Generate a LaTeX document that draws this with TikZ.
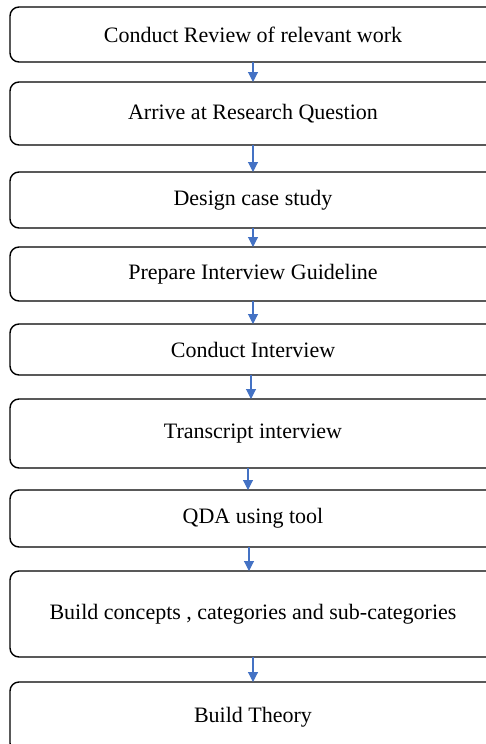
\documentclass[tikz,border=0pt]{standalone}
\usepackage{fontspec}
\setmainfont{Liberation Serif}
\usetikzlibrary{arrows.meta,positioning}
\definecolor{flowblue}{HTML}{4472C4}

\begin{document}
\begin{tikzpicture}[
  x=1pt, y=1pt,
  node distance=22pt,
  stage/.style={draw, line width=1.4pt, rounded corners=9pt, minimum width=486pt,
                inner sep=0pt, outer sep=0pt, align=center,
                font=\fontsize{22}{26}\selectfont},
  flow/.style={-{Triangle[length=10pt,width=10pt]}, draw=flowblue, fill=flowblue,
               line width=1.1pt}
]
\useasboundingbox (0,0) rectangle (486,-744);
\clip (0,0) rectangle (486,-744);
\node[stage, minimum height=55pt] (review) at (253,-34.5) {Conduct Review of relevant work};
\node[stage, minimum height=63pt, below=20pt of review] (question) {Arrive at Research Question};
\node[stage, minimum height=56pt, below=27pt of question] (design) {Design case study};
\node[stage, minimum height=54pt, below=19pt of design] (guideline) {Prepare Interview Guideline};
\node[stage, minimum height=51pt, below=23pt of guideline] (interview) {Conduct Interview};
\node[stage, minimum height=69pt, below=24pt of interview] (transcript) {Transcript interview};
\node[stage, minimum height=57pt, below=22pt of transcript] (qda) {QDA using tool};
\node[stage, minimum height=86pt, below=24pt of qda] (concepts) {Build concepts , categories and sub-categories};
\node[stage, minimum height=70pt, below=25pt of concepts] (theory) {Build Theory};

\draw[flow] (review) -- (question);
\draw[flow] (question) -- (design);
\draw[flow] (design) -- (guideline);
\draw[flow] (guideline) -- (interview);
\draw[flow] ([xshift=-2pt]interview.south) -- ([xshift=-2pt]transcript.north);
\draw[flow] ([xshift=-5pt]transcript.south) -- ([xshift=-5pt]qda.north);
\draw[flow] ([xshift=-4pt]qda.south) -- ([xshift=-4pt]concepts.north);
\draw[flow] (concepts) -- (theory);
\end{tikzpicture}
\end{document}
